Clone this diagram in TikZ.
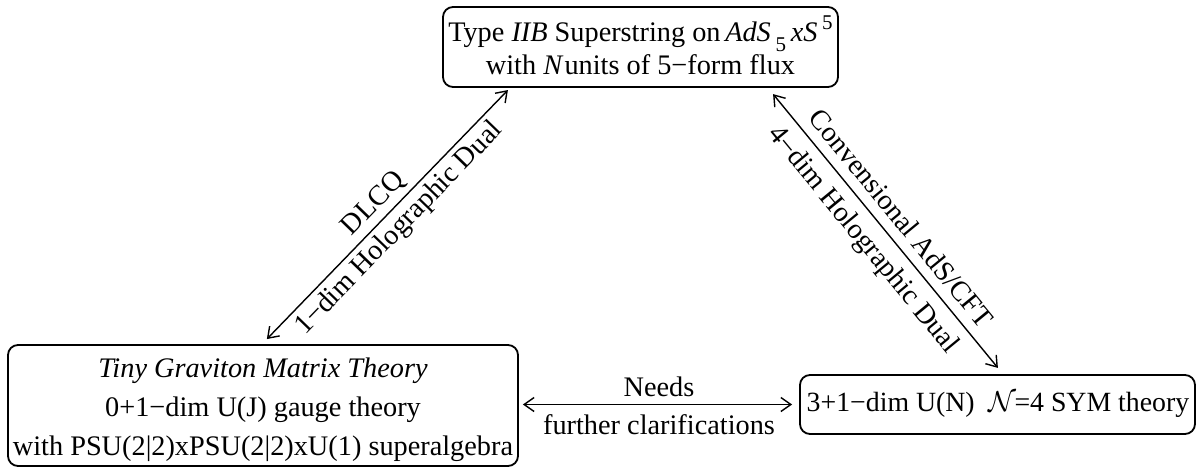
\documentclass[tikz,border=0pt]{standalone}
\usepackage{fontspec}
\setmainfont{Liberation Serif}
\usetikzlibrary{arrows.meta,calc}
\newcommand{\dnfive}{\raisebox{-5pt}{\fontsize{10.5}{10.5}\selectfont 5}}
\newcommand{\upfive}{\raisebox{6pt}{\fontsize{10.5}{10.5}\selectfont 5}}
\begin{document}
\begin{tikzpicture}[x=0.5pt,y=-0.5pt,
  box/.style={draw,line width=0.9pt,rounded corners=5pt,inner sep=0pt},
  boxtext/.style={align=center,inner sep=0pt,font=\fontsize{14.15}{19.5}\selectfont},
  conn/.style={line width=0.7pt,
    {Straight Barb[length=5pt,width=7pt]}-{Straight Barb[length=5pt,width=7pt]}},
  lab/.style={font=\fontsize{14.15}{17}\selectfont,inner sep=1.5pt}]
\useasboundingbox (0,0) rectangle (1196,468);
\node[box,minimum width=197.5pt,minimum height=40pt] (top) at (640.5,47) {};
\node[boxtext] (toptext) at (640.5,45)
  {Type \textit{IIB} Superstring on\,\textit{AdS}\,\dnfive\,\textit{xS}\,\upfive\\[-3pt]
   with \textit{N}\kern0.5pt units of 5−form flux};
\node[box,minimum width=255pt,minimum height=60.5pt] (lt) at (263,405.5) {};
\node[boxtext] (lttext) at (263,409.5)
  {\textit{Tiny Graviton Matrix Theory}\\
   0+1−dim U(J) gauge theory\\
   with PSU(2|2)xPSU(2|2)xU(1) superalgebra};
\node[box,minimum width=197.5pt,minimum height=29.5pt] (rt) at (997.5,404.5) {};
\node[boxtext,font=\fontsize{13.9}{19.5}\selectfont] (rttext) at (998,404.5)
  {3+1−dim U(N)\enspace$\mathcal{N}$\kern-1pt=4 SYM theory};
\draw[conn,shorten <=3.5pt,shorten >=1.5pt] ([xshift=-0.5pt]lt.north) -- ([xshift=-65.25pt]top.south)
  node[lab,midway,sloped,above=1pt] {DLCQ}
  node[lab,midway,sloped,below=1pt] {1−dim Holographic Dual};
\draw[conn,shorten <=4pt,shorten >=4pt] ([xshift=63.75pt]top.south) -- ([xshift=2.75pt]rt.north)
  node[lab,midway,sloped,above=3.5pt] {Convensional AdS/CFT}
  node[lab,pos=0.48,sloped,below=3.5pt] {4−dim Holographic Dual};
\draw[conn,shorten <=2pt,shorten >=3.5pt] (rt.west -| lt.east) -- (rt.west)
  node[lab,midway,above=2pt] {Needs}
  node[lab,midway,below=3pt] {further clarifications};
\end{tikzpicture}
\end{document}
